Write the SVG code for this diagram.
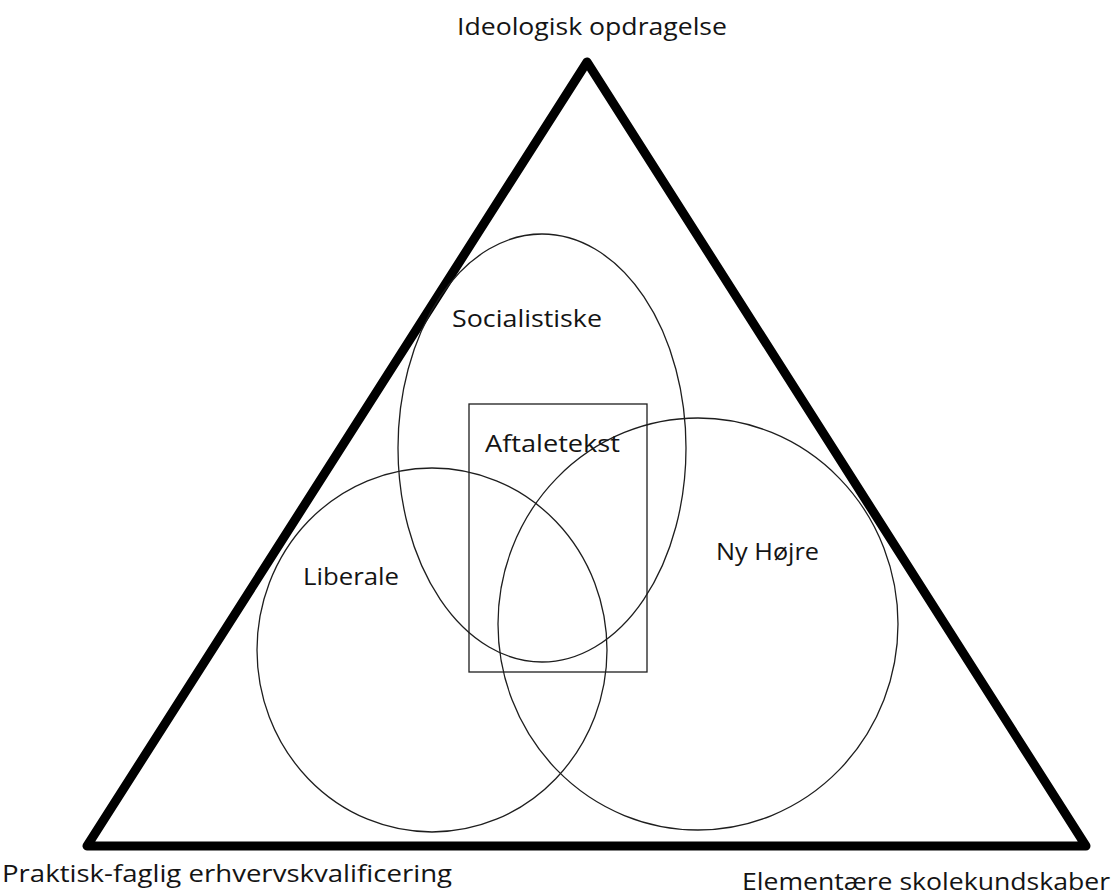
<svg xmlns="http://www.w3.org/2000/svg" width="1116" height="895" viewBox="0 0 1116 895">
<style>
.lbl{font-family:"Open Sans","Liberation Sans",sans-serif;font-size:24px;fill:#141414}
.ring{fill:none;stroke:#1e1e1e;stroke-width:1.3}
</style>
<rect width="1116" height="895" fill="#ffffff"/>
<g id="triangle">
<polygon points="587,62 87,846 1086,846" fill="none" stroke="#000" stroke-width="9" stroke-linejoin="round"/>
</g>
<g id="socialistiske">
<ellipse class="ring" cx="542" cy="448" rx="144" ry="214"/>
<text class="lbl" x="452" y="327" textLength="150" lengthAdjust="spacingAndGlyphs">Socialistiske</text>
</g>
<g id="liberale">
<ellipse class="ring" cx="432" cy="650" rx="175" ry="182"/>
<text class="lbl" x="303" y="585" textLength="96" lengthAdjust="spacingAndGlyphs">Liberale</text>
</g>
<g id="nyhojre">
<ellipse class="ring" cx="698" cy="624" rx="200" ry="206"/>
<text class="lbl" x="716" y="560" textLength="103" lengthAdjust="spacingAndGlyphs">Ny Højre</text>
</g>
<g id="aftaletekst">
<rect class="ring" x="469" y="404" width="178" height="268"/>
<text class="lbl" x="485" y="452" textLength="135" lengthAdjust="spacingAndGlyphs">Aftaletekst</text>
</g>
<g id="corner-labels">
<text class="lbl" x="457" y="35" textLength="270" lengthAdjust="spacingAndGlyphs">Ideologisk opdragelse</text>
<text class="lbl" x="2" y="882" textLength="450" lengthAdjust="spacingAndGlyphs">Praktisk-faglig erhvervskvalificering</text>
<text class="lbl" x="742" y="890" textLength="368" lengthAdjust="spacingAndGlyphs">Elementære skolekundskaber</text>
</g>
<g id="connectors"></g>
</svg>
